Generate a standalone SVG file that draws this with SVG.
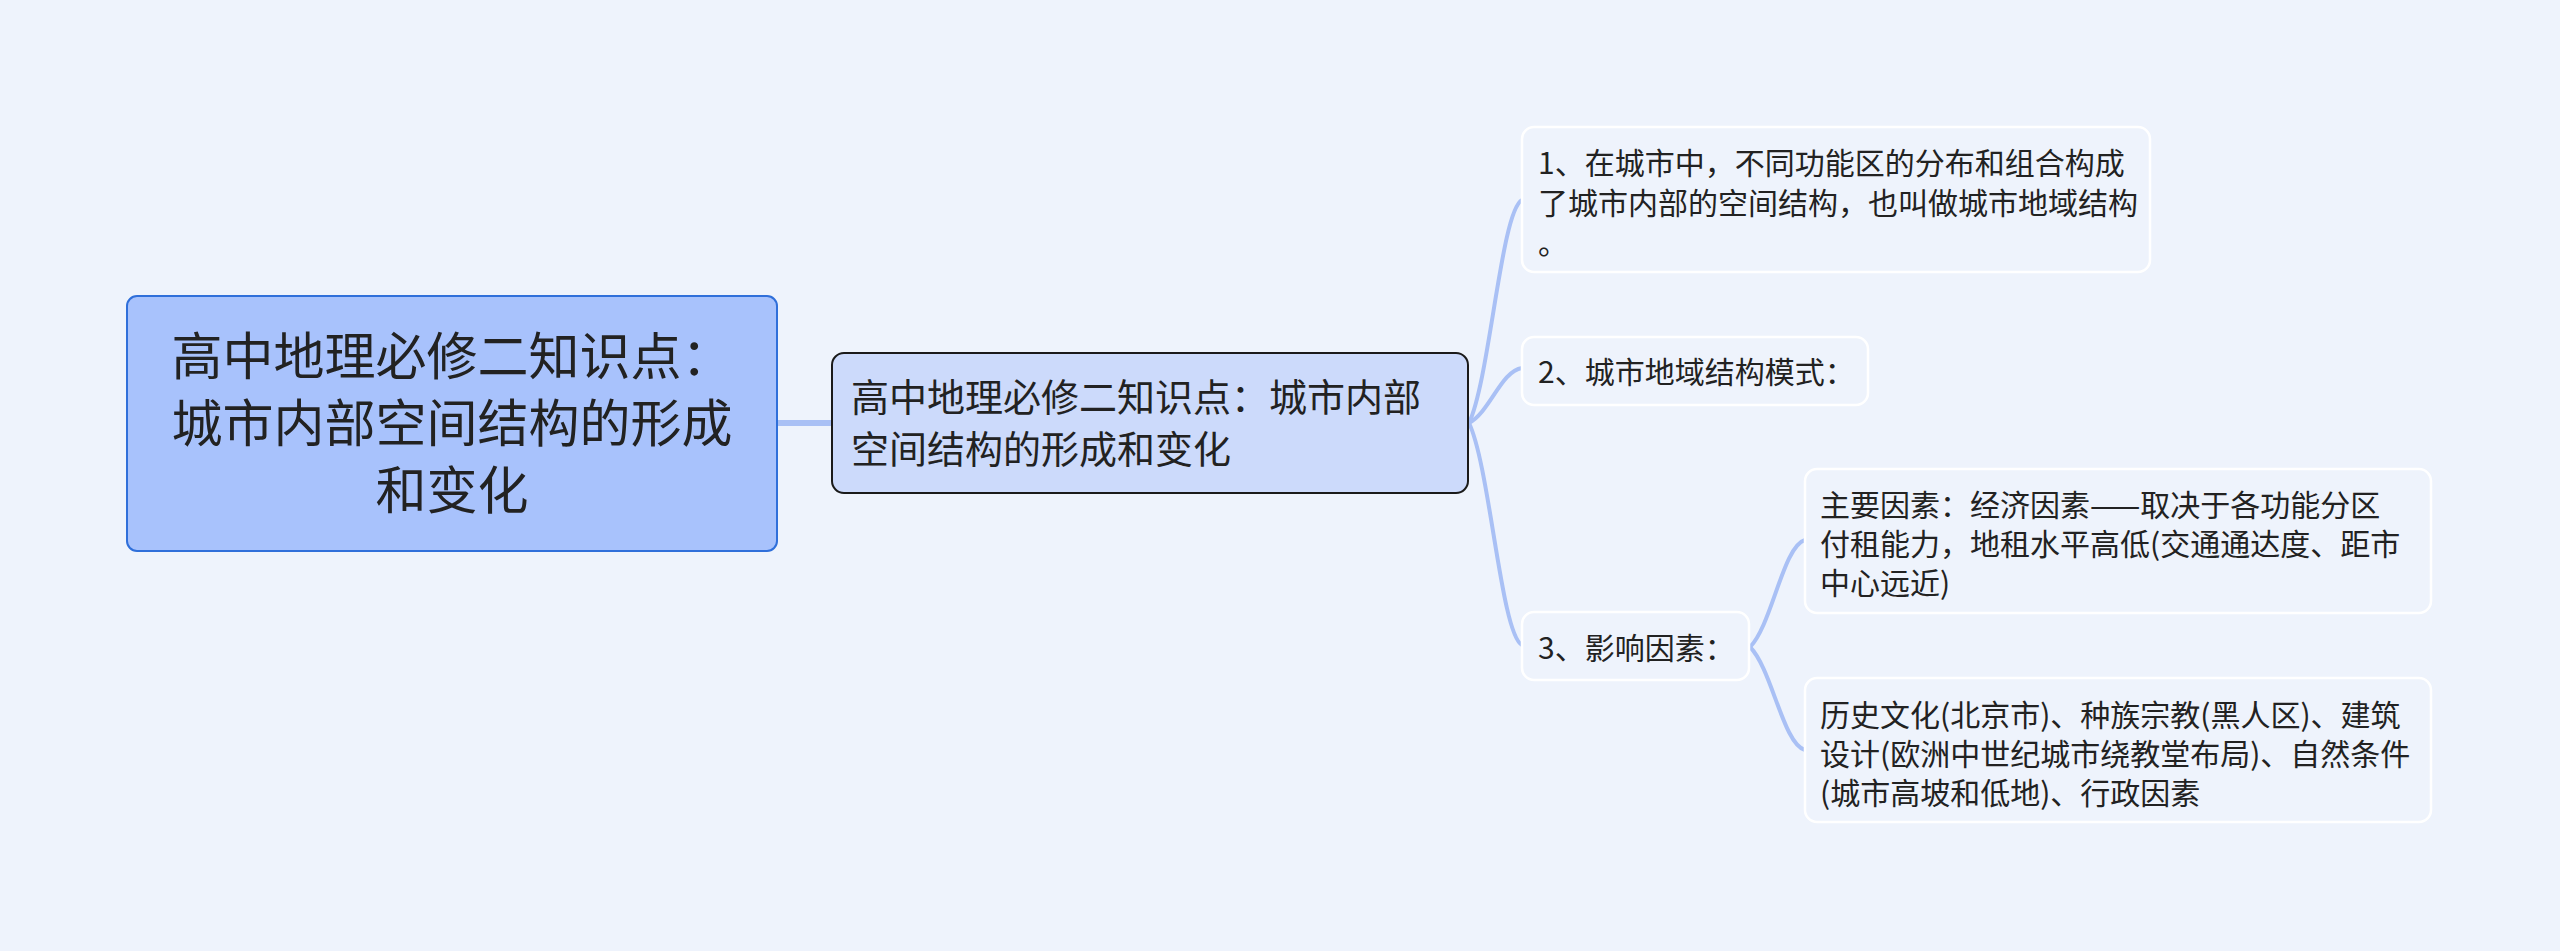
<svg xmlns="http://www.w3.org/2000/svg" width="2560" height="951" viewBox="0 0 2560 951">
<style>
.t{font-family:"Noto Sans CJK SC","Noto Sans",sans-serif;fill:#222222}
.root{fill:#a8c2fc;stroke:#2f6fda;stroke-width:2}
.main{fill:#ccdafb;stroke:#1a1a1a;stroke-width:2}
.sub{fill:#eef3fc;stroke:#ffffff;stroke-width:2.5}
.c{fill:none;stroke:#a9c0f5;stroke-width:4;stroke-linecap:round}
</style>
<rect x="0" y="0" width="2560" height="951" fill="#eef3fc"/>
<g id="connectors">
<line x1="777" y1="423" x2="832" y2="423" stroke="#a9c0f5" stroke-width="6"/>
<path class="c" d="M1469 423 C1490 378,1501 211,1522 200"/>
<path class="c" d="M1469 423 C1490 412,1501 371,1522 368"/>
<path class="c" d="M1469 423 C1490 467,1501 634,1522 645"/>
<path class="c" d="M1750 647 C1772 625,1783 546,1805 540"/>
<path class="c" d="M1750 647 C1772 669,1783 744,1805 750"/>
</g>
<g id="root">
<rect class="root" x="127" y="296" width="650" height="255" rx="10"/>
<text class="t" font-size="51" text-anchor="middle"><tspan x="452" y="375">高中地理必修二知识点：</tspan><tspan x="452" y="442">城市内部空间结构的形成</tspan><tspan x="452" y="509">和变化</tspan></text>
</g>
<g id="main">
<rect class="main" x="832" y="353" width="636" height="140" rx="12"/>
<text class="t" font-size="38"><tspan x="851" y="411">高中地理必修二知识点：城市内部</tspan><tspan x="851" y="463">空间结构的形成和变化</tspan></text>
</g>
<g id="n1">
<rect class="sub" x="1522" y="127" width="628" height="145" rx="12"/>
<text class="t" font-size="30"><tspan x="1538" y="174">1、在城市中，不同功能区的分布和组合构成</tspan><tspan x="1538" y="214">了城市内部的空间结构，也叫做城市地域结构</tspan><tspan x="1538" y="254">。</tspan></text>
</g>
<g id="n2">
<rect class="sub" x="1522" y="337" width="346" height="68" rx="12"/>
<text class="t" font-size="30" x="1538" y="383">2、城市地域结构模式：</text>
</g>
<g id="n3">
<rect class="sub" x="1522" y="612" width="227" height="68" rx="12"/>
<text class="t" font-size="30" x="1538" y="659">3、影响因素：</text>
</g>
<g id="n4">
<rect class="sub" x="1805" y="469" width="626" height="144" rx="12"/>
<text class="t" font-size="30"><tspan x="1820" y="516">主要因素：经济因素——取决于各功能分区</tspan><tspan x="1820" y="555">付租能力，地租水平高低(交通通达度、距市</tspan><tspan x="1820" y="594">中心远近)</tspan></text>
</g>
<g id="n5">
<rect class="sub" x="1805" y="678" width="626" height="144" rx="12"/>
<text class="t" font-size="30"><tspan x="1820" y="726">历史文化(北京市)、种族宗教(黑人区)、建筑</tspan><tspan x="1820" y="765">设计(欧洲中世纪城市绕教堂布局)、自然条件</tspan><tspan x="1820" y="804">(城市高坡和低地)、行政因素</tspan></text>
</g>
</svg>
